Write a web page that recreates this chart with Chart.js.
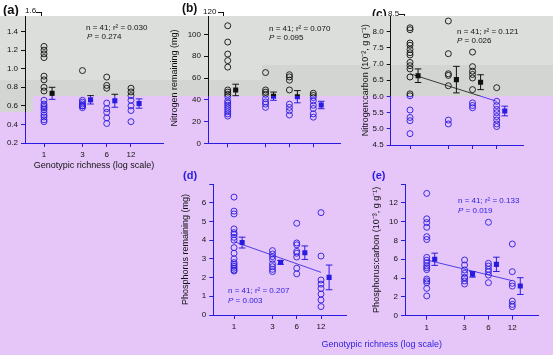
<!DOCTYPE html>
<html><head><meta charset="utf-8">
<script src="https://cdn.jsdelivr.net/npm/chart.js@4/dist/chart.umd.min.js"></script>
<style>
html,body{margin:0;padding:0;}
body{width:553px;height:355px;position:relative;overflow:hidden;background:#e6c6f9;font-family:"Liberation Sans",Arial,sans-serif;}
.bg{position:absolute;}
canvas{position:absolute;left:0;top:0;}
.t{position:absolute;white-space:nowrap;line-height:1;}
.blk{color:#111;}
.blu{color:#2a1be0;}
.lab{font-weight:bold;}
.ann{font-size:8px;}
.tk{font-size:8px;color:#111;}
.brk{position:absolute;width:5px;height:6px;border-top:1px solid #111;border-right:1px solid #111;}
#strip{position:absolute;left:0;top:0;width:553px;height:16px;background:#fff;overflow:hidden;z-index:5;}
</style></head><body>
<div class="bg" style="left:0;top:16px;width:553px;height:80px;background:#dcdedb"></div>
<div class="bg" style="left:0;top:80px;width:262px;height:16px;background:#d3d5d2"></div>
<div class="bg" style="left:262px;top:65px;width:291px;height:31px;background:#d3d5d2"></div>
<div class="bg" style="left:0;top:96px;width:33px;height:16px;background:#d3d5d2"></div>

<canvas id="pa" width="553" height="355"></canvas>
<canvas id="pb" width="553" height="355"></canvas>
<canvas id="pc" width="553" height="355"></canvas>
<canvas id="pd" width="553" height="355"></canvas>
<canvas id="pe" width="553" height="355"></canvas>

<div id="strip">
  <div class="t lab blk" style="left:3px;top:3px;font-size:13px">(a)</div>
  <div class="t tk" style="left:25px;top:7px">1.6</div>
  <div class="brk" style="left:36px;top:12px"></div>
  <div class="t lab blk" style="left:182px;top:2px;font-size:12px">(b)</div>
  <div class="t tk" style="left:203px;top:8px">120</div>
  <div class="brk" style="left:218px;top:12px"></div>
  <div class="t lab blk" style="left:372px;top:8px;font-size:12px">(c)</div>
  <div class="t tk" style="left:388px;top:10px">8.5</div>
  <div class="brk" style="left:399px;top:14px"></div>
</div>

<div class="t ann blk" style="left:86px;top:24px">n = 41; r² = 0.030</div>
<div class="t ann blk" style="left:87px;top:33px"><i>P</i> = 0.274</div>
<div class="t ann blk" style="left:269px;top:25px">n = 41; r² = 0.070</div>
<div class="t ann blk" style="left:269px;top:34px"><i>P</i> = 0.095</div>
<div class="t ann blk" style="left:457px;top:28px">n = 41; r² = 0.121</div>
<div class="t ann blk" style="left:457px;top:37px"><i>P</i> = 0.026</div>
<div class="t ann blu" style="left:228px;top:287px">n = 41; r² = 0.207</div>
<div class="t ann blu" style="left:228px;top:297px"><i>P</i> = 0.003</div>
<div class="t ann blu" style="left:458px;top:197px">n = 41; r² = 0.133</div>
<div class="t ann blu" style="left:458px;top:207px"><i>P</i> = 0.019</div>

<div class="t lab blu" style="left:183px;top:170px;font-size:11px">(d)</div>
<div class="t lab blu" style="left:372px;top:170px;font-size:11px">(e)</div>
<div class="t blu" style="left:381.7px;top:340px;font-size:9px;transform:translateX(-50%)">Genotypic richness (log scale)</div>

<script>
// ---------- data ----------
const richness = [1, 3, 6, 12];

// (a) no y-axis title visible
const aPoints = [
  [1.24,1.20,1.16,1.12,0.92,0.88,0.80,0.76,0.66,0.62,0.60,0.58,0.56,0.53,0.50,0.48,0.45,0.43],
  [0.98,0.66,0.64,0.62,0.60,0.60,0.58,0.60],
  [0.91,0.82,0.79,0.63,0.57,0.53,0.47,0.41],
  [0.79,0.75,0.71,0.66,0.60,0.55,0.43]
];
const aMeans = [0.735, 0.665, 0.655, 0.625];
const aSE    = [0.065, 0.045, 0.07, 0.05];

// (b) Nitrogen remaining (mg)
const bPoints = [
  [108,93,82,76,70,49,47,45,43,39,37,35,33,31,29,27,25],
  [65,49,47,45,41,38,36,33],
  [63,61,58,49,36,33,30,26],
  [46,44,42,39,35,32,27,24]
];
const bMeans = [49, 43.3, 42.8, 35.2];
const bSE    = [5.3, 3.8, 5.6, 3.4];

// (c) Nitrogen:carbon
const cPoints = [
  [8.12,8.06,7.65,7.58,7.45,7.35,7.28,7.05,6.95,6.85,6.6,6.08,6.02,5.58,5.35,5.25,4.85],
  [8.33,7.32,6.7,6.65,6.33,5.27,5.15],
  [7.37,6.92,6.78,6.68,6.57,6.21,5.80,5.72,5.65],
  [6.27,5.85,5.72,5.6,5.5,5.38,5.27,5.15,5.07]
];
const cMeans = [6.64, 6.52, 6.44, 5.55];
const cSE    = [0.21, 0.41, 0.23, 0.15];
const cFit   = [6.70, 5.85];

// (d) Phosphorus remaining (mg)
const dPoints = [
  [6.3,5.55,5.4,4.6,4.4,4.3,4.15,4.0,3.6,3.3,3.0,2.8,2.7,2.6,2.5,2.4,2.35],
  [3.44,3.26,3.12,2.97,2.73,2.58,2.44,2.32],
  [4.9,3.85,3.75,3.4,3.3,3.1,2.5,2.2],
  [5.47,3.15,1.87,1.65,1.42,1.12,0.8,0.45]
];
const dMeans = [3.87, 2.81, 3.33, 2.01];
const dSE    = [0.29, 0.1, 0.36, 0.66];
const dFit   = [3.92, 2.28];

// (e) Phosphorus:carbon
const ePoints = [
  [13.0,10.3,9.9,9.4,8.4,8.1,6.2,5.9,5.6,5.3,5.1,4.9,3.9,3.7,3.5,2.9,2.1],
  [5.92,5.39,4.86,4.5,4.08,4.0,3.69,3.37],
  [9.93,5.57,5.28,4.93,4.68,4.32,3.51],
  [7.62,4.68,3.44,3.15,1.56,1.2,0.96]
];
const eMeans = [6.0, 4.4, 5.46, 3.15];
const eSE    = [0.65, 0.3, 0.76, 0.89];
const eFit   = [5.92, 3.72];

// ---------- style ----------
const BLACK = '#111111', BLUE = '#2a1be0';
const MEAN_SHIFT = 1.26;   // means drawn slightly right of the raw points (log offset)
Chart.defaults.font.family = "'Liberation Sans', Arial, sans-serif";

function grad(ctx, cut) {
  const g = ctx.createLinearGradient(0, 0, 0, 355);
  const t = cut / 355;
  g.addColorStop(0, BLACK); g.addColorStop(t, BLACK);
  g.addColorStop(t, BLUE);  g.addColorStop(1, BLUE);
  return g;
}

function makePanel(o) {
  const ctx = document.getElementById(o.id).getContext('2d');
  const g = grad(ctx, 96);
  const gy = grad(ctx, o.yCut || 96);
  const scatter = o.points.flatMap((grp, i) => grp.map(v => ({x: richness[i], y: v})));
  const meanPts = o.means.map((m, i) => ({x: richness[i] * MEAN_SHIFT, y: m}));
  const datasets = [];
  if (o.fit) datasets.push({type: 'scatter', data: [{x: richness[0], y: o.fit[0]}, {x: richness[3], y: o.fit[1]}],
    showLine: true, borderColor: g, borderWidth: 0.8, pointRadius: 0, fill: false});
  datasets.push({type: 'scatter', data: scatter, showLine: false, pointStyle: 'circle', pointRadius: 3,
    pointBorderWidth: 0.9, pointBackgroundColor: 'rgba(0,0,0,0)', pointBorderColor: g});
  datasets.push({type: 'scatter', data: meanPts, showLine: false, pointStyle: 'rect', pointRadius: 3.6,
    pointBorderWidth: 0, pointBackgroundColor: g, pointBorderColor: g});

  const errPlugin = {
    id: 'err_' + o.id,
    afterDatasetsDraw(chart) {
      const c = chart.ctx, xs = chart.scales.x, ys = chart.scales.y;
      c.save(); c.strokeStyle = g; c.lineWidth = 1;
      o.means.forEach((m, i) => {
        const px = xs.getPixelForValue(richness[i] * MEAN_SHIFT);
        const y1 = ys.getPixelForValue(m - o.se[i]), y2 = ys.getPixelForValue(m + o.se[i]);
        c.beginPath();
        c.moveTo(px, y1); c.lineTo(px, y2);
        c.moveTo(px - 3.3, y1); c.lineTo(px + 3.3, y1);
        c.moveTo(px - 3.3, y2); c.lineTo(px + 3.3, y2);
        c.stroke();
      });
      c.restore();
    }
  };

  new Chart(ctx, {
    type: 'scatter',
    data: {datasets},
    options: {
      responsive: false, animation: false, devicePixelRatio: 1, events: [],
      layout: {padding: o.pad},
      plugins: {legend: {display: false}, tooltip: {enabled: false}},
      scales: {
        x: {
          type: 'logarithmic', bounds: 'data', min: o.xMin, max: o.xMax, position: 'bottom',
          afterBuildTicks: s => { s.ticks = richness.map(v => ({value: v})); },
          afterFit: s => { s.height = o.xH; },
          ticks: {autoSkip: false, maxRotation: 0, padding: 3, color: g, font: {size: 8},
                  callback: v => o.xLabels ? String(v) : ''},
          grid: {drawOnChartArea: false, drawTicks: true, tickLength: 4, color: g, lineWidth: 1},
          border: {display: true, color: g, width: 1},
          title: {display: !!o.xTitle, text: o.xTitle || '', color: g, font: {size: 9}, padding: 0}
        },
        y: {
          type: 'linear', min: o.yMin, max: o.yMax, position: 'left',
          afterFit: s => { s.width = o.yW; },
          ticks: {stepSize: o.step, padding: 3, color: gy, font: {size: 8},
                  callback: v => Math.abs(v - o.yMax) < 1e-9 ? '' : Number(v).toFixed(o.dec)},
          grid: {drawOnChartArea: false, drawTicks: true, tickLength: 4, color: gy, lineWidth: 1},
          border: {display: true, color: gy, width: 1},
          title: {display: !!o.yTitle, text: o.yTitle || '', color: g, font: {size: 9}, padding: 0}
        }
      }
    },
    plugins: [errPlugin]
  });
}

makePanel({id: 'pa', points: aPoints, means: aMeans, se: aSE, fit: null,
  xMin: 0.581, xMax: 29.95, yMin: 0.2, yMax: 1.6, step: 0.2, dec: 1, yCut: 112,
  pad: {left: 0, right: 390, top: 13, bottom: 183.6}, yW: 25, xH: 28.4,
  xLabels: true, xTitle: 'Genotypic richness (log scale)', yTitle: ''});

makePanel({id: 'pb', points: bPoints, means: bMeans, se: bSE, fit: null,
  xMin: 0.564, xMax: 26.07, yMin: 0, yMax: 120, step: 20, dec: 0,
  pad: {left: 169.6, right: 213, top: 12.7, bottom: 201.7}, yW: 38.4, xH: 10,
  xLabels: false, yTitle: 'Nitrogen remaining (mg)'});

makePanel({id: 'pc', points: cPoints, means: cMeans, se: cSE, fit: cFit,
  xMin: 0.575, xMax: 25.5, yMin: 4.5, yMax: 8.5, step: 0.5, dec: 1,
  pad: {left: 360.1, right: 30, top: 15.5, bottom: 200}, yW: 30.6, xH: 10,
  xLabels: false, yTitle: 'Nitrogen:carbon (10⁻², g g⁻¹)'});

makePanel({id: 'pd', points: dPoints, means: dMeans, se: dSE, fit: dFit,
  xMin: 0.553, xMax: 25.0, yMin: 0, yMax: 7, step: 1, dec: 0,
  pad: {left: 180.1, right: 206.3, top: 184, bottom: 20}, yW: 33.2, xH: 20,
  xLabels: true, yTitle: 'Phosphorus remaining (mg)'});

makePanel({id: 'pe', points: ePoints, means: eMeans, se: eSE, fit: eFit,
  xMin: 0.532, xMax: 25.3, yMin: 0, yMax: 14, step: 2, dec: 0,
  pad: {left: 371.1, right: 15, top: 184, bottom: 19.3}, yW: 33.9, xH: 20,
  xLabels: true, yTitle: 'Phosphorus:carbon (10⁻³, g g⁻¹)'});
</script>
</body></html>
